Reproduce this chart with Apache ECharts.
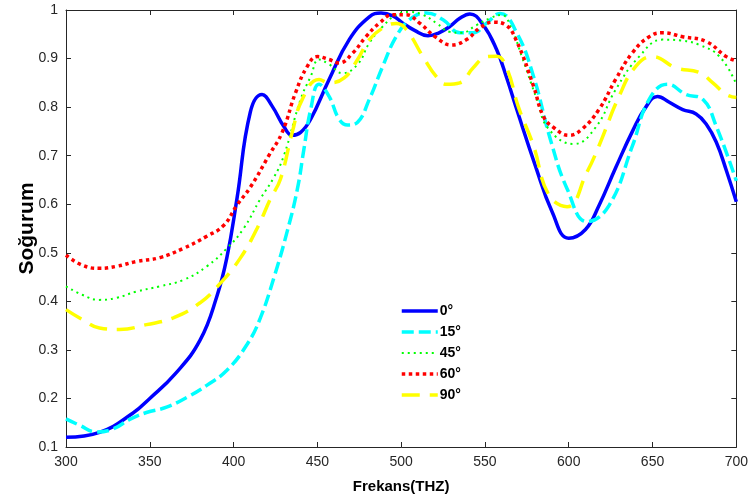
<!DOCTYPE html>
<html><head><meta charset="utf-8">
<script src="https://cdn.jsdelivr.net/npm/echarts@6/dist/echarts.min.js"></script>
<style>html,body{margin:0;padding:0;background:#fff}#c{width:751px;height:499px}</style>
</head><body><div id="c"></div>
<script>
const seriesNames = ['0°','15°','45°','60°','90°'];
const xTicks = [300,350,400,450,500,550,600,650,700];
const yTicks = [0.1,0.2,0.3,0.4,0.5,0.6,0.7,0.8,0.9,1];

const f0 = [300,320,340,350,365,380,390,396,402,410,417,423,430,435,440,446,457,469,481,488,495,501,508,516,522,529,535,541,549,557,563,569,580,590,600,610,618,628,638,646,653,660,668,676,682,688,694,700];
const v0 = [0.12,0.13,0.17,0.2,0.25,0.32,0.41,0.49,0.611,0.79,0.826,0.802,0.76,0.742,0.748,0.775,0.857,0.939,0.986,0.994,0.988,0.973,0.958,0.947,0.952,0.966,0.983,0.992,0.969,0.918,0.86,0.795,0.68,0.585,0.53,0.548,0.597,0.675,0.75,0.8,0.822,0.81,0.795,0.786,0.765,0.728,0.67,0.605];

const f15 = [300,308,318,328,338,348,360,372,384,396,408,416,424,432,438,442,446,451,457,463,468,474,481,489,497,505,515,525,535,543,551,559,569,579,589,599,611,624,638,648,659,670,680,688,700];
const v15 = [0.158,0.145,0.131,0.137,0.157,0.171,0.182,0.202,0.227,0.258,0.311,0.366,0.448,0.544,0.63,0.714,0.795,0.847,0.822,0.775,0.763,0.769,0.816,0.884,0.945,0.98,0.994,0.98,0.953,0.953,0.973,0.993,0.953,0.863,0.734,0.632,0.564,0.597,0.72,0.816,0.847,0.826,0.816,0.761,0.648];

const f45 = [300,310,320,330,342,356,370,384,396,406,416,424,430,440,446,451,457,465,474,481,489,497,505,513,521,529,536,545,553,560,566,572,581,588,603,616,628,642,656,667,678,690,700];
const v45 = [0.431,0.413,0.403,0.407,0.42,0.431,0.444,0.472,0.509,0.55,0.611,0.655,0.7,0.816,0.863,0.898,0.888,0.87,0.888,0.932,0.966,0.99,0.996,0.99,0.973,0.955,0.953,0.969,0.983,0.99,0.96,0.904,0.816,0.755,0.724,0.758,0.836,0.904,0.939,0.937,0.928,0.904,0.847];

const f60 = [300,310,320,330,342,356,370,384,394,402,410,421,429,437,444,450,457,463,471,479,487,495,503,511,521,530,539,547,555,562,569,579,585,591,600,608,618,628,638,648,656,668,682,694,700];
const v60 = [0.495,0.474,0.468,0.472,0.482,0.49,0.509,0.534,0.556,0.598,0.635,0.7,0.748,0.83,0.884,0.904,0.898,0.891,0.911,0.945,0.973,0.99,0.99,0.973,0.943,0.928,0.939,0.963,0.975,0.97,0.935,0.843,0.78,0.758,0.742,0.755,0.795,0.857,0.912,0.945,0.953,0.945,0.935,0.904,0.895];

const f90 = [300,310,320,332,348,364,380,392,404,414,422,428,435,441,451,457,466,474,481,490,497,503,513,521,527,535,543,551,557,563,570,579,588,599,611,618,630,640,650,664,678,686,694,700];
const v90 = [0.383,0.362,0.345,0.342,0.352,0.366,0.397,0.437,0.489,0.55,0.611,0.652,0.748,0.816,0.857,0.85,0.86,0.898,0.939,0.965,0.972,0.96,0.904,0.863,0.847,0.85,0.881,0.904,0.905,0.88,0.80,0.72,0.62,0.595,0.667,0.72,0.822,0.884,0.904,0.881,0.871,0.85,0.826,0.82];

const freqs = [f0,f15,f45,f60,f90];
const vals = [v0,v15,v45,v60,v90];
const colors = ['#0000ff','#00ffff','#00ff00','#ff0000','#ffff00'];
const styles = [
  {width:3.5,type:'solid'},
  {width:3.5,type:[12,5]},
  {width:2,type:[2,4]},
  {width:3.5,type:[3.5,3.5]},
  {width:3.5,type:[18,10]}
];
const font = 'Liberation Sans, Arial, sans-serif';
const axCol = '#262626';

const chart = echarts.init(document.getElementById('c'), null, {renderer:'canvas'});
const mkX = (pos, show) => ({
  type:'value', position:pos, min:300, max:700, interval:50,
  axisLine:{show:true, onZero:false, lineStyle:{color:axCol,width:1}},
  axisTick:{show:true, inside:true, length:5, lineStyle:{color:axCol}},
  axisLabel:{show:show, color:axCol, fontFamily:font, fontSize:14, margin:8},
  splitLine:{show:false},
  name: show ? 'Frekans(THZ)' : '', nameLocation:'middle', nameGap:32,
  nameTextStyle:{fontFamily:font, fontWeight:'bold', fontSize:15, color:'#000'}
});
const mkY = (pos, show) => ({
  type:'value', position:pos, min:0.1, max:1, interval:0.1,
  axisLine:{show:true, onZero:false, lineStyle:{color:axCol,width:1}},
  axisTick:{show:true, inside:true, length:5, lineStyle:{color:axCol}},
  axisLabel:{show:show, color:axCol, fontFamily:font, fontSize:14, margin:8,
    formatter: v => String(Math.round(v*10)/10)},
  splitLine:{show:false},
  name: show ? 'Soğurum' : '', nameLocation:'middle', nameGap:28, nameMoveOverlap:false,
  nameTextStyle:{fontFamily:font, fontWeight:'bold', fontSize:21, color:'#000'}
});

chart.setOption({
  animation:false,
  backgroundColor:'#fff',
  grid:{left:66, right:14, top:10, bottom:49},
  xAxis:[mkX('bottom',true), mkX('top',false)],
  yAxis:[mkY('left',true), mkY('right',false)],
  legend:{
    orient:'vertical', left:395, top:299, itemWidth:36, itemHeight:14, itemGap:7,
    itemStyle:{opacity:0},
    lineStyle:{width:'inherit', type:'inherit'},
    textStyle:{fontFamily:font, fontWeight:'bold', fontSize:14, color:'#000', padding:[0,0,0,-3]},
    data: seriesNames
  },
  series: seriesNames.map((n,i)=>({
    name:n, type:'line', smooth:0.45, showSymbol:false, symbol:'none',
    xAxisIndex:0, yAxisIndex:0,
    data: freqs[i].map((x,j)=>[x, vals[i][j]]),
    lineStyle:{color:colors[i], width:styles[i].width, type:styles[i].type, cap:'butt'},
    itemStyle:{color:colors[i]}
  }))
});
</script></body></html>
